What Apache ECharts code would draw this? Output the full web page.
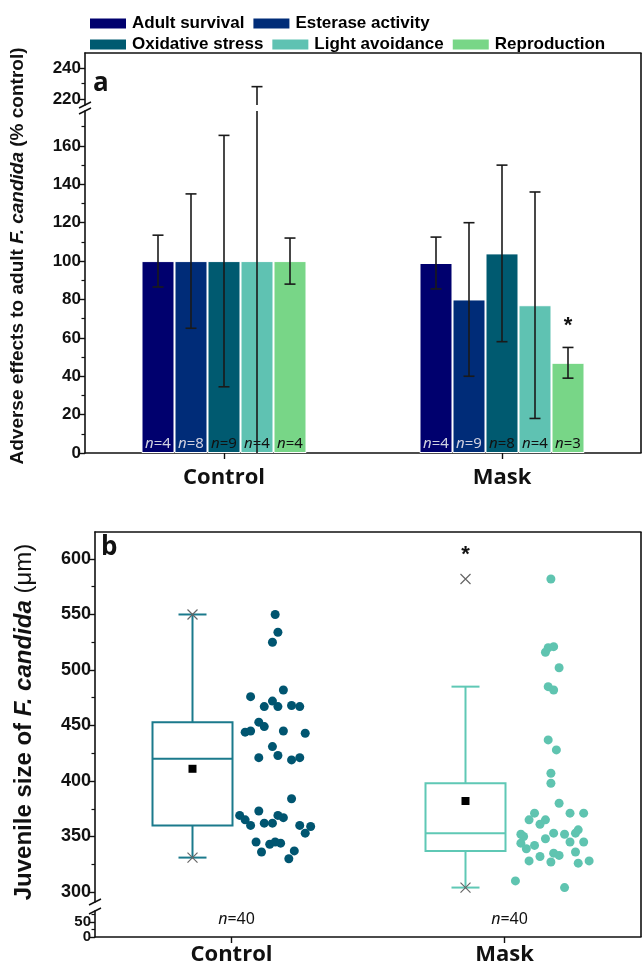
<!DOCTYPE html>
<html lang="en">
<head>
<meta charset="UTF-8">
<title>F. candida adverse effects</title>
<script src="https://cdn.jsdelivr.net/npm/echarts@6.0.0/dist/echarts.min.js"></script>
<style>
    html, body { margin: 0; padding: 0; background: #fff; }
    #main { width: 643px; height: 970px; }
</style>
</head>
<body>
<div id="main"></div>
<script>
    // ---- panel a : adverse effects (% of control) ----
    let groups = ['Control', 'Mask'];
    let endpoints = ['Adult survival', 'Esterase activity', 'Oxidative stress', 'Light avoidance', 'Reproduction'];
    let barColors = ['#00006e', '#002c78', '#005a70', '#5fc2b2', '#78d687'];
    // rows = endpoint, cols = [Control, Mask]
    let barMeans = [[100, 99], [100, 80], [100, 104], [100, 77], [100, 47]];
    let barErrs = [[13.5, 13.5], [35, 40], [65.5, 46], [128, 59], [12, 8]];
    let nCounts = [[4, 4], [8, 9], [9, 8], [4, 4], [4, 3]];
    let sigA = [[1, 4, 66]];          // [group, endpoint, y] of the '*'

    let ticksA = [0, 20, 40, 60, 80, 100, 120, 140, 160];
    let minorA = [10, 30, 50, 70, 90, 110, 130, 150, 170];
    let ticksAHigh = [220, 240];
    let minorAHigh = [230];

    // ---- panel b : juvenile size (um) ----
    // [lower whisker, Q1, median, Q3, upper whisker]
    let boxStats = [[331, 360, 420, 453, 550], [304, 337, 353, 398, 485]];
    let boxMeans = [411, 382];
    let boxCross = [[331, 550], [304, 582]];
    let sigB = [[1, 604]];
    let nB = [40, 40];
    // [group + jitter, size]
    let controlPts = [
        [0.16, 550], [0.17, 534], [0.15, 525], [0.19, 482], [0.07, 476], [0.15, 472], [0.12, 467], [0.17, 467],
        [0.22, 468], [0.25, 467], [0.10, 453], [0.12, 449], [0.05, 444], [0.07, 445], [0.19, 445], [0.27, 443],
        [0.15, 431], [0.10, 421], [0.17, 423], [0.22, 419], [0.25, 421], [0.22, 384], [0.03, 369], [0.05, 365],
        [0.07, 360], [0.10, 373], [0.12, 362], [0.15, 362], [0.17, 369], [0.19, 367], [0.25, 360], [0.29, 359],
        [0.27, 353], [0.09, 345], [0.14, 343], [0.16, 345], [0.18, 344], [0.11, 336], [0.23, 337], [0.21, 330]
    ];
    let maskPts = [
        [1.17, 582], [1.15, 516], [1.16, 520], [1.18, 521], [1.20, 502], [1.16, 485], [1.18, 482], [1.16, 437],
        [1.19, 428], [1.17, 407], [1.17, 398], [1.20, 380], [1.11, 371], [1.09, 365], [1.24, 371], [1.29, 371],
        [1.15, 365], [1.13, 361], [1.06, 352], [1.07, 350], [1.18, 353], [1.22, 352], [1.26, 353], [1.27, 356],
        [1.06, 344], [1.08, 339], [1.11, 342], [1.15, 348], [1.24, 345], [1.29, 345], [1.18, 335], [1.20, 333],
        [1.26, 336], [1.09, 328], [1.13, 332], [1.17, 327], [1.27, 326], [1.31, 328], [1.04, 310], [1.22, 304]
    ];
    let ticksB = [300, 350, 400, 450, 500, 550, 600];
    let minorB = [325, 375, 425, 475, 525, 575];
    let ticksBLow = [0, 50];
    let minorBLow = [25, 75];

    let boxColors = ['#1b7a8c', '#5fc8b5'];
    let ptColors = ['#005570', '#5fc4b0'];

    const BAR_W = 33;
    const BOX_DX = -39;
    const AX = '#111';
    const NUM_FONT = 'Liberation Sans';
    const CAT_FONT = 'Open Sans';

    let chart = echarts.init(document.getElementById('main'));

    function majorY(grid, min, max, labels, ticks, size) {
        return {
            type: 'value', gridIndex: grid, min: min, max: max, position: 'left',
            splitLine: { show: false },
            axisLine: { show: true, onZero: false, lineStyle: { color: AX, width: 1.6 } },
            axisTick: { show: true, length: 6, customValues: ticks, lineStyle: { color: AX, width: 1.4 } },
            axisLabel: { customValues: labels, hideOverlap: false, fontFamily: NUM_FONT, fontWeight: 'bold', fontSize: size, color: AX, margin: 4 }
        };
    }
    function minorY(grid, min, max, ticks) {
        return {
            type: 'value', gridIndex: grid, min: min, max: max, position: 'left',
            splitLine: { show: false },
            axisLine: { show: false, onZero: false },
            axisLabel: { show: false },
            axisTick: { show: true, length: 3.5, customValues: ticks, lineStyle: { color: AX, width: 1.2 } }
        };
    }
    function frameX(grid, type) {
        let ax = {
            gridIndex: grid, position: 'top',
            axisLine: { show: true, onZero: false, lineStyle: { color: AX, width: 1.6 } },
            axisTick: { show: false }, axisLabel: { show: false }, splitLine: { show: false }
        };
        if (type === 'value') {
            ax.type = 'value'; ax.min = -0.5; ax.max = 1.5; ax.show = false;
        } else {
            ax.type = 'category'; ax.data = groups;
        }
        return ax;
    }
    function bottomX(grid, margin) {
        return {
            type: 'category', gridIndex: grid, data: groups, position: 'bottom',
            axisLine: { show: true, onZero: false, lineStyle: { color: AX, width: 1.6 } },
            axisTick: { show: true, alignWithLabel: true, length: 6, lineStyle: { color: AX, width: 1.4 } },
            axisLabel: { fontFamily: CAT_FONT, fontWeight: 'bold', fontSize: 22, color: '#111', margin: margin },
            splitLine: { show: false }
        };
    }

    // error bars for panel a
    function renderErr(params, api) {
        let c = api.value(0), k = api.value(1);
        let lo = api.value(2), hi = api.value(3);
        let x = api.coord([c, 0])[0] + (k - 2) * BAR_W;
        let yLo = api.coord([c, lo])[1];
        let yHi = api.coord([c, hi])[1];
        let st = { stroke: '#1a1a1a', lineWidth: 1.6 };
        let cap = 5.5;
        return {
            type: 'group',
            children: [
                { type: 'line', shape: { x1: x, y1: yLo, x2: x, y2: yHi }, style: st },
                { type: 'line', shape: { x1: x - cap, y1: yHi, x2: x + cap, y2: yHi }, style: st },
                { type: 'line', shape: { x1: x - cap, y1: yLo, x2: x + cap, y2: yLo }, style: st }
            ]
        };
    }
    let errData = [];
    endpoints.forEach(function (name, k) {
        groups.forEach(function (g, c) {
            errData.push([c, k, barMeans[k][c] - barErrs[k][c], barMeans[k][c] + barErrs[k][c]]);
        });
    });

    function renderStar(dx) {
        return function (params, api) {
            let k = api.value(1);
            let p = api.coord([api.value(0), api.value(2)]);
            return {
                type: 'text', x: p[0] + dx(k), y: p[1],
                style: { text: '*', fill: '#111', font: 'bold 22px ' + NUM_FONT, align: 'center', verticalAlign: 'middle' }
            };
        };
    }

    function renderBox(params, api) {
        let c = api.value(0);
        let yMin = api.coord([c, api.value(1)])[1];
        let yQ1 = api.coord([c, api.value(2)])[1];
        let yMed = api.coord([c, api.value(3)])[1];
        let yQ3 = api.coord([c, api.value(4)])[1];
        let yMax = api.coord([c, api.value(5)])[1];
        let x = api.coord([c, 0])[0] + BOX_DX;
        let hw = 40, cw = 14;
        let st = { stroke: boxColors[params.dataIndex], lineWidth: 2 };
        return {
            type: 'group',
            children: [
                { type: 'rect', shape: { x: x - hw, y: yQ3, width: hw * 2, height: yQ1 - yQ3 }, style: { stroke: st.stroke, lineWidth: 2, fill: 'none' } },
                { type: 'line', shape: { x1: x - hw, y1: yMed, x2: x + hw, y2: yMed }, style: st },
                { type: 'line', shape: { x1: x, y1: yQ3, x2: x, y2: yMax }, style: st },
                { type: 'line', shape: { x1: x, y1: yQ1, x2: x, y2: yMin }, style: st },
                { type: 'line', shape: { x1: x - cw, y1: yMax, x2: x + cw, y2: yMax }, style: st },
                { type: 'line', shape: { x1: x - cw, y1: yMin, x2: x + cw, y2: yMin }, style: st }
            ]
        };
    }

    let series = [];
    endpoints.forEach(function (name, k) {
        let light = k < 2;
        series.push({
            name: name, type: 'bar', xAxisIndex: 1, yAxisIndex: 1,
            barWidth: BAR_W, barGap: '0%',
            itemStyle: { color: barColors[k], borderColor: '#fff', borderWidth: 1 },
            label: {
                show: true, position: 'insideBottom', distance: 2,
                formatter: function (p) { return '{i|n}{r|=' + nCounts[k][p.dataIndex] + '}'; },
                rich: {
                    i: { fontFamily: 'Noto Sans', fontStyle: 'italic', fontSize: 15, color: light ? '#cfd0e0' : '#111' },
                    r: { fontFamily: 'Noto Sans', fontSize: 15, color: light ? '#cfd0e0' : '#111' }
                }
            },
            data: barMeans[k]
        });
    });
    series.push({ type: 'custom', xAxisIndex: 1, yAxisIndex: 1, clip: true, renderItem: renderErr, data: errData, z: 5 });
    series.push({ type: 'custom', xAxisIndex: 0, yAxisIndex: 0, clip: true, renderItem: renderErr, data: errData, z: 5 });
    series.push({ type: 'custom', xAxisIndex: 1, yAxisIndex: 1, renderItem: renderStar(function (k) { return (k - 2) * BAR_W; }), data: sigA, z: 6 });

    series.push({
        type: 'custom', xAxisIndex: 3, yAxisIndex: 4, renderItem: renderBox,
        data: boxStats.map(function (s, i) { return [i].concat(s); })
    });
    series.push({
        type: 'scatter', xAxisIndex: 3, yAxisIndex: 4, symbol: 'circle', symbolSize: 9,
        itemStyle: { color: ptColors[0], opacity: 1 }, data: controlPts
    });
    series.push({
        type: 'scatter', xAxisIndex: 3, yAxisIndex: 4, symbol: 'circle', symbolSize: 9,
        itemStyle: { color: ptColors[1], opacity: 1 }, data: maskPts
    });
    let crossData = [];
    boxCross.forEach(function (v, i) { v.forEach(function (y) { crossData.push([i, y]); }); });
    series.push({
        type: 'scatter', xAxisIndex: 3, yAxisIndex: 4, symbol: 'path://M0,0L10,10M10,0L0,10', symbolSize: 10,
        symbolOffset: [BOX_DX, 0],
        itemStyle: { color: 'rgba(0,0,0,0)', borderColor: '#666', borderWidth: 1.2, opacity: 1 },
        data: crossData, z: 4
    });
    series.push({
        type: 'scatter', xAxisIndex: 3, yAxisIndex: 4, symbol: 'rect', symbolSize: 8,
        symbolOffset: [BOX_DX, 0], itemStyle: { color: '#000', opacity: 1 },
        data: boxMeans.map(function (m, i) { return [i, m]; }), z: 4
    });
    series.push({
        type: 'custom', xAxisIndex: 3, yAxisIndex: 4,
        renderItem: renderStar(function () { return BOX_DX; }),
        data: sigB.map(function (s) { return [s[0], 0, s[1]]; })
    });
    series.push({
        type: 'custom', xAxisIndex: 4, yAxisIndex: 5,
        renderItem: function (params, api) {
            let p = api.coord([api.value(0), 60]);
            return {
                type: 'text', x: p[0] + 5, y: p[1],
                style: {
                    text: '{i|n}{r|=' + api.value(1) + '}', align: 'center', verticalAlign: 'middle',
                    rich: {
                        i: { fontFamily: 'Noto Sans', fontStyle: 'italic', fontSize: 16, fill: '#111' },
                        r: { fontFamily: 'Noto Sans', fontSize: 16, fill: '#111' }
                    }
                }
            };
        },
        data: nB.map(function (n, i) { return [i, n]; })
    });

    // frame pieces and axis breaks
    function brk(x, y) {
        return { type: 'line', shape: { x1: x - 6, y1: y + 3, x2: x + 6, y2: y - 3 }, style: { stroke: AX, lineWidth: 1.5 } };
    }
    let txt = { fontFamily: NUM_FONT, fontWeight: 'bold', fontSize: 19, fill: '#111' };
    let legendText = { fontFamily: NUM_FONT, fontWeight: 'bold', fontSize: 17, color: '#000' };

    chart.setOption({
        animation: false,
        legend: [{
            data: endpoints.slice(0, 2), left: 88, top: 15, icon: 'rect', padding: 0,
            itemWidth: 38, itemHeight: 12, itemGap: 7, textStyle: legendText
        }, {
            data: endpoints.slice(2), left: 88, top: 36, icon: 'rect', padding: 0,
            itemWidth: 38, itemHeight: 12, itemGap: 7, textStyle: legendText
        }],
        grid: [
            { left: 85, right: 2, top: 53, height: 52 },
            { left: 85, right: 2, top: 111, height: 342 },
            { left: 95, right: 2, top: 532, height: 370 },
            { left: 95, right: 2, top: 911, height: 26 }
        ],
        xAxis: [
            frameX(0, 'category'),
            bottomX(1, 14),
            frameX(2, 'category'),
            frameX(2, 'value'),
            bottomX(3, 7)
        ],
        yAxis: [
            majorY(0, 216, 250, ticksAHigh, ticksAHigh, 17),
            majorY(1, 0, 178.2, ticksA, ticksA, 17),
            minorY(0, 216, 250, minorAHigh),
            minorY(1, 0, 178.2, minorA),
            majorY(2, 291, 624.3, ticksB, ticksB, 18),
            majorY(3, 0, 86.7, ticksBLow, ticksBLow, 15),
            minorY(2, 291, 624.3, minorB),
            minorY(3, 0, 86.7, minorBLow)
        ],
        graphic: [
            { type: 'line', shape: { x1: 641, y1: 53, x2: 641, y2: 453 }, style: { stroke: AX, lineWidth: 1.6 } },
            { type: 'line', shape: { x1: 641, y1: 532, x2: 641, y2: 937 }, style: { stroke: AX, lineWidth: 1.6 } },
            brk(85, 105), brk(85, 111),
            brk(95, 902), brk(95, 911),
            { type: 'text', x: 93, y: 84, style: { text: 'a', font: 'bold 26px ' + CAT_FONT, fill: '#111', verticalAlign: 'middle' } },
            { type: 'text', x: 101, y: 548, style: { text: 'b', font: 'bold 26px ' + CAT_FONT, fill: '#111', verticalAlign: 'middle' } },
            {
                type: 'text', x: 18, y: 256, rotation: Math.PI / 2,
                style: {
                    text: '{b|Adverse effects to adult }{bi|F. candida}{b| (% control)}',
                    align: 'center', verticalAlign: 'middle',
                    rich: { b: txt, bi: Object.assign({ fontStyle: 'italic' }, txt) }
                }
            },
            {
                type: 'text', x: 24, y: 722, rotation: Math.PI / 2,
                style: {
                    text: '{b|Juvenile size of }{bi|F. candida}{r| (\u03bcm)}',
                    align: 'center', verticalAlign: 'middle',
                    rich: {
                        b: { fontFamily: NUM_FONT, fontWeight: 'bold', fontSize: 24, fill: '#111' },
                        bi: { fontFamily: NUM_FONT, fontWeight: 'bold', fontStyle: 'italic', fontSize: 24, fill: '#111' },
                        r: { fontFamily: NUM_FONT, fontSize: 24, fill: '#111' }
                    }
                }
            }
        ],
        series: series
    });
</script>
</body>
</html>
